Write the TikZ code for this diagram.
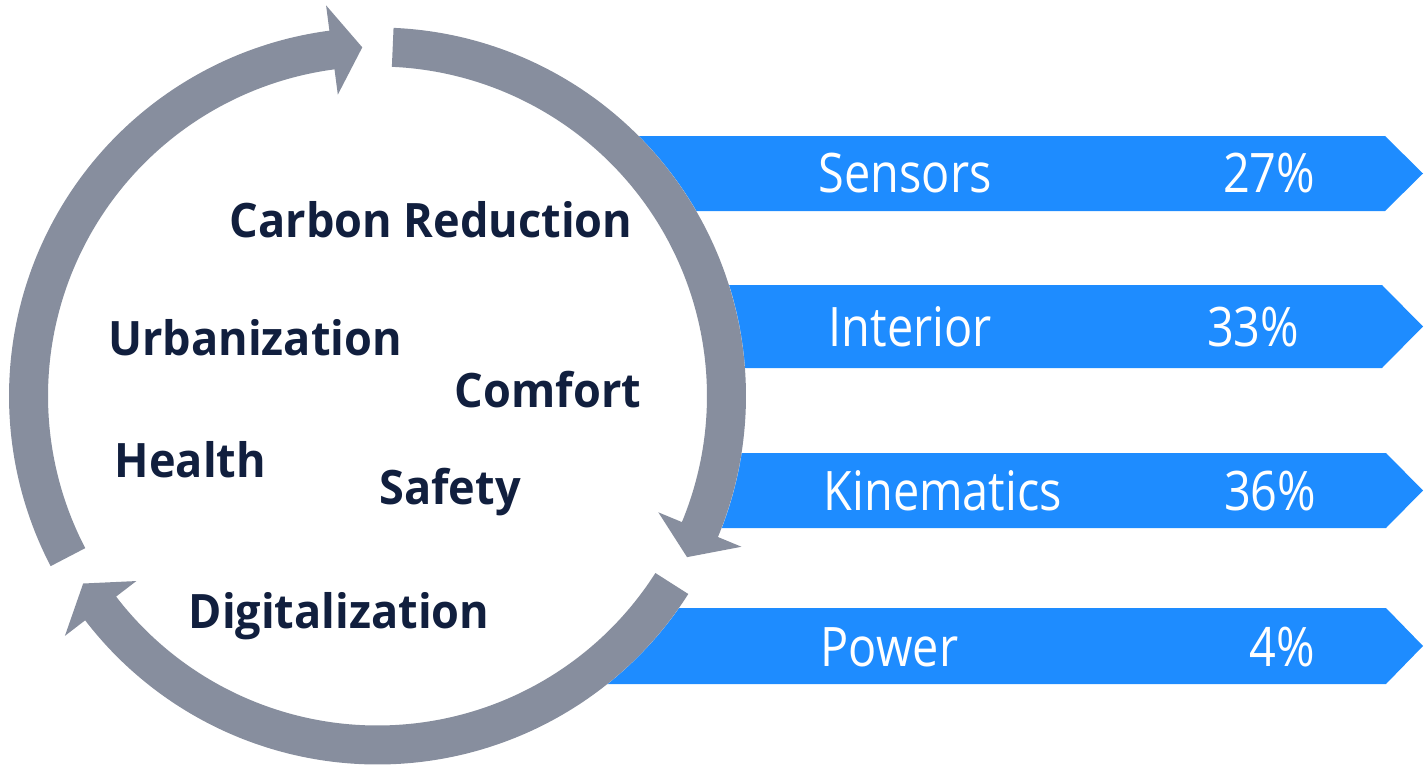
\documentclass[tikz,border=0pt]{standalone}
\usepackage{xcolor}
\usepackage{fontspec}
\usepackage{tikz}

\setmainfont{Open Sans}
\newfontfamily\barfont{Open Sans}[FakeStretch = 0.86]
\newfontfamily\driverfont{Open Sans}[FakeStretch = 0.95]

\definecolor{ringgray}{HTML}{878E9E}
\definecolor{barblue}{HTML}{1E8CFF}
\definecolor{darknavy}{HTML}{111F3E}

\begin{document}
\begin{tikzpicture}[
    ring/.style = {fill = ringgray},
    bar/.style = {fill = barblue},
    driver/.style = {inner sep = 0pt, text = darknavy, font = \fontsize{13.5}{16}\driverfont\bfseries, anchor = base},
    barlabel/.style = {inner sep = 0pt, text = white, font = \fontsize{15.5}{18}\barfont, anchor = base west},
    barvalue/.style = {inner sep = 0pt, text = white, font = \fontsize{15.5}{18}\barfont, anchor = base east}
    ]

    \useasboundingbox (0, 0) rectangle (14.25, 7.67);

    \fill[bar] (4.0, 6.31) -- (13.85, 6.31) -- (14.23, 5.935) -- (13.85, 5.56) -- (4.0, 5.56) -- cycle;
    \fill[bar] (4.0, 4.82) -- (13.82, 4.82) -- (14.23, 4.405) -- (13.82, 3.99) -- (4.0, 3.99) -- cycle;
    \fill[bar] (4.0, 3.14) -- (13.86, 3.14) -- (14.23, 2.765) -- (13.86, 2.39) -- (4.0, 2.39) -- cycle;
    \fill[bar] (4.0, 1.59) -- (13.86, 1.59) -- (14.23, 1.21) -- (13.86, 0.83) -- (4.0, 0.83) -- cycle;

    \begin{scope}[shift = {(3.775, 3.71)}]
        \fill[white] (0, 0) circle (3.685);
        \fill[ring] (87.5:3.685) arc (87.5:-22.5:3.685) -- (-22.5:3.94) -- (-27.5:3.49) -- (-22.5:3.04) -- (-22.5:3.295) arc (-22.5:87.5:3.295) -- cycle;
        \fill[ring] (-32.5:3.685) arc (-32.5:-142.5:3.685) -- (-142.5:3.94) -- (-147.5:3.49) -- (-142.5:3.04) -- (-142.5:3.295) arc (-142.5:-32.5:3.295) -- cycle;
        \fill[ring] (-152.5:3.685) arc (-152.5:-262.5:3.685) -- (-262.5:3.94) -- (-267.5:3.49) -- (-262.5:3.04) -- (-262.5:3.295) arc (-262.5:-152.5:3.295) -- cycle;
    \end{scope}

    \node[driver] (carbon) at (4.31, 5.30) {Carbon Reduction};
    \node[driver] (urban) at (2.55, 4.12) {Urbanization};
    \node[driver] (comfort) at (5.48, 3.60) {Comfort};
    \node[driver] (health) at (1.905, 2.90) {Health};
    \node[driver] (safety) at (4.50, 2.63) {Safety};
    \node[driver] (digital) at (3.39, 1.39) {Digitalization};

    \node[barlabel] (sensors) at (8.18, 5.74) {Sensors};
    \node[barvalue] (sensorsval) at (13.16, 5.74) {27\%};
    \node[barlabel] (interior) at (8.28, 4.21) {Interior};
    \node[barvalue] (interiorval) at (13.00, 4.21) {33\%};
    \node[barlabel] (kinematics) at (8.23, 2.57) {Kinematics};
    \node[barvalue] (kinematicsval) at (13.17, 2.57) {36\%};
    \node[barlabel] (power) at (8.20, 1.01) {Power};
    \node[barvalue] (powerval) at (13.16, 1.01) {4\%};

\end{tikzpicture}
\end{document}
